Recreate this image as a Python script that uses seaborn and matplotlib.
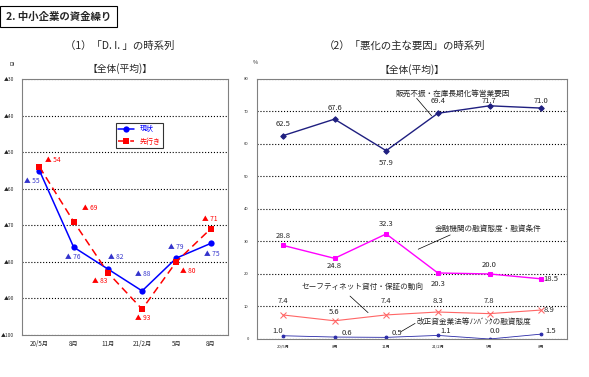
import numpy as np
import pandas as pd
import matplotlib
matplotlib.use("Agg")
import matplotlib.pyplot as plt
import seaborn as sns

# data
months = ["20/5月", "8月", "11月", "21/2月", "5月", "8月"]
di_now = [55, 76, 82, 88, 79, 75]
di_next = [54, 69, 83, 93, 80, 71]

sales = [62.5, 67.6, 57.9, 69.4, 71.7, 71.0]
bank = [28.8, 24.8, 32.3, 20.3, 20.0, 18.5]
safety = [7.4, 5.6, 7.4, 8.3, 7.8, 8.9]
nonbank = [1.0, 0.6, 0.5, 1.1, 0.0, 1.5]

sns.set_style("white")
plt.rcParams["font.family"] = ["Noto Sans CJK JP", "DejaVu Sans"]

W, H = 589, 377
fig = plt.figure(figsize=(W / 100, H / 100), dpi=100)


def box(x0, y0, x1, y1):
    # pixel box -> figure fraction
    return [x0 / W, 1 - y1 / H, (x1 - x0) / W, (y1 - y0) / H]


x = np.arange(len(months))
df_left = pd.DataFrame({"x": np.concatenate([x, x]),
                        "v": di_now + di_next,
                        "s": ["現状"] * 6 + ["先行き"] * 6})

# ---------- left chart: D.I. ----------
ax1 = fig.add_axes(box(22.3, 79.3, 227.7, 334.7))
sns.lineplot(data=df_left, x="x", y="v", hue="s", style="s",
             palette={"現状": "#0000FF", "先行き": "#FF0000"},
             dashes={"現状": "", "先行き": (5, 3)},
             markers={"現状": "o", "先行き": "s"},
             markersize=4.5, markeredgewidth=0, linewidth=1.1, ax=ax1)
ax1.set_xlim(-0.5, 5.5)
ax1.set_ylim(100, 30)
ax1.set_yticks(range(30, 101, 10))
ax1.set_yticklabels(["▲" + str(v) for v in range(30, 101, 10)], fontsize=3.5)
ax1.set_xticks(x)
ax1.set_xticklabels(months, fontsize=4.5)
ax1.set_xticks(np.arange(-0.5, 5.6, 1), minor=True)
ax1.tick_params(axis="x", which="major", length=0, pad=4)
ax1.tick_params(axis="x", which="minor", length=3, direction="in")
ax1.tick_params(axis="y", length=0, pad=6)
ax1.set_xlabel("")
ax1.set_ylabel("")
ax1.grid(axis="y", color="black", linestyle=":", linewidth=0.8)
for s in ax1.spines.values():
    s.set_color("#808080")
    s.set_linewidth(0.8)

leg = ax1.legend(loc="center", bbox_to_anchor=(0.57, 0.78), fontsize=5,
                 frameon=True, fancybox=False, edgecolor="black",
                 handlelength=2.2, borderpad=0.4, labelspacing=0.6)
leg.get_frame().set_linewidth(0.8)
for t, c in zip(leg.get_texts(), ["#0000FF", "#FF0000"]):
    t.set_color(c)

now_pos = [(-0.45, 57.9), (0.75, 78.6), (2.0, 78.6), (2.8, 83.5), (3.75, 76.1), (4.8, 77.8)]
next_pos = [(0.17, 52.1), (1.25, 65.2), (1.54, 85.3), (2.8, 95.4), (4.1, 82.5), (4.75, 68.2)]
for v, (px, py) in zip(di_now, now_pos):
    ax1.text(px, py, "▲ " + str(v), color="#3333CC", fontsize=4.8, va="center")
for v, (px, py) in zip(di_next, next_pos):
    ax1.text(px, py, "▲ " + str(v), color="#FF0000", fontsize=4.8, va="center")

fig.text(12 / W, 1 - 64 / H, "DI", fontsize=4, ha="center", va="center")
fig.text(120 / W, 1 - 69 / H, "【全体(平均)】", fontsize=7, ha="center", va="center")

# ---------- right chart: reasons ----------
ax2 = fig.add_axes(box(257, 78.8, 567, 339))
series = [("sales", sales, "#1F1F80", "D", 2.8, 1.0),
          ("bank", bank, "#FF00FF", "s", 3.5, 1.0),
          ("safety", safety, "#FF6666", "x", 4.0, 0.8),
          ("nonbank", nonbank, "#2A2AA8", "o", 2.0, 0.6)]
for name, vals, col, mk, ms, lw in series:
    sns.lineplot(x=x, y=vals, color=col, marker=mk, markersize=ms,
                 markeredgecolor=col, linewidth=lw, ax=ax2)
ax2.set_xlim(-0.5, 5.5)
ax2.set_ylim(0, 80)
ax2.set_yticks(range(0, 81, 10))
ax2.set_yticklabels([str(v) for v in range(0, 81, 10)], fontsize=3)
ax2.set_xticks(x)
ax2.set_xticklabels(months, fontsize=3)
ax2.set_xticks(np.arange(-0.5, 5.6, 1), minor=True)
ax2.tick_params(axis="x", which="major", length=0, pad=4)
ax2.tick_params(axis="x", which="minor", length=2, direction="in")
ax2.tick_params(axis="y", length=0, pad=6)
ax2.grid(axis="y", color="black", linestyle=":", linewidth=0.8)
for s in ax2.spines.values():
    s.set_color("#808080")
    s.set_linewidth(0.8)

sales_pos = [(0, 66.1), (1, 71.0), (2, 54.0), (3, 73.3), (4, 73.2), (5, 73.2)]
bank_pos = [(0, 31.7), (1, 22.4), (2, 35.4), (3, 16.9), (4, 22.7), (5.05, 18.4)]
safety_pos = [(0, 11.6), (1, 8.2), (2, 11.6), (3, 11.6), (4, 11.6), (5.05, 8.9)]
nonbank_pos = [(-0.1, 2.5), (1.25, 1.75), (2.2, 1.9), (3.15, 2.5), (4.1, 2.5), (5.08, 2.5)]
for vals, pos in [(sales, sales_pos), (bank, bank_pos),
                  (safety, safety_pos), (nonbank, nonbank_pos)]:
    for v, (px, py) in zip(vals, pos):
        ha = "left" if px > 5 else "center"
        ax2.text(px, py, f"{v:.1f}", fontsize=5.5, ha=ha, va="center")

notes = [("販売不振・在庫長期化等営業要因", (3.30, 75.5), (2.59, 74.0), (2.88, 68.6)),
         ("金融機関の融資態度・融資条件", (3.97, 33.8), (3.24, 32.0), (2.62, 27.6)),
         ("セーフティネット貸付・保証の動向", (1.54, 16.1), (1.30, 13.2), (1.65, 8.1)),
         ("改正貸金業法等ﾉﾝﾊﾞﾝｸの融資態度", (3.70, 5.3), (2.56, 4.8), (2.28, 2.2))]
for label, (tx, ty), (ax0, ay0), (ax1_, ay1) in notes:
    ax2.text(tx, ty, label, fontsize=5.5, ha="center", va="center")
    ax2.plot([ax0, ax1_], [ay0, ay1], color="black", linewidth=0.5)

fig.text(255 / W, 1 - 62 / H, "%", fontsize=4, ha="center", va="center")
fig.text(412 / W, 1 - 70 / H, "【全体(平均)】", fontsize=7, ha="center", va="center")

# ---------- headings ----------
fig.text(6 / W, 1 - 16.5 / H, "2. 中小企業の資金繰り", fontsize=7.5, fontweight="bold",
         ha="left", va="center",
         bbox=dict(boxstyle="square,pad=0.55", facecolor="white", edgecolor="black", linewidth=0.8))
fig.text(120 / W, 1 - 46 / H, "（1）「D. I. 」の時系列", fontsize=7.5, ha="center", va="center")
fig.text(405 / W, 1 - 46 / H, "（2）「悪化の主な要因」の時系列", fontsize=7.5, ha="center", va="center")

fig.savefig("out.png", dpi=100)
